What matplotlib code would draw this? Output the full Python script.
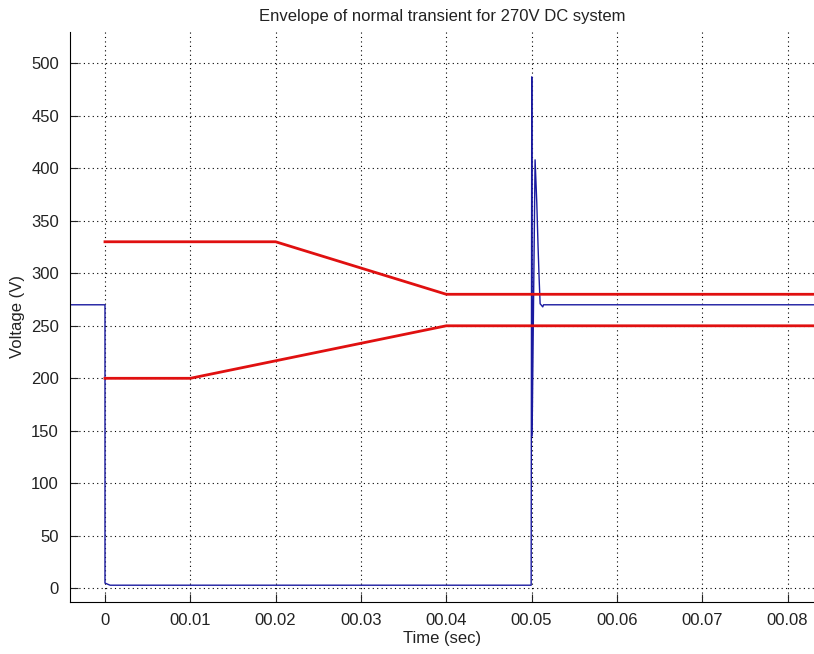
import matplotlib.pyplot as plt
import numpy as np

plt.rcParams['font.family'] = ['Liberation Sans', 'DejaVu Sans']

# measured voltage trace (blue)
t_meas = [-0.0045, 0.0, 0.0, 0.0006, 0.04995, 0.04995, 0.05002, 0.05006, 0.05041,
          0.05061, 0.05076, 0.05088, 0.0510, 0.05131, 0.0514, 0.085]
v_meas = [270, 270, 5, 3, 3, 3, 487, 145, 408, 367, 325, 296, 271, 268, 270, 270]

# envelope limits (red)
t_upper = [0.0, 0.02, 0.04, 0.085]
v_upper = [330, 330, 280, 280]
t_lower = [0.0, 0.01, 0.04, 0.085]
v_lower = [200, 200, 250, 250]

xticks = [0, 0.01, 0.02, 0.03, 0.04, 0.05, 0.06, 0.07, 0.08]
xlabels = ["0", "00.01", "00.02", "00.03", "00.04", "00.05", "00.06", "00.07", "00.08"]
yticks = np.arange(0, 501, 50)

fig = plt.figure(figsize=(8.14, 6.54), dpi=100)
ax = fig.add_axes([0.086, 0.0795, 0.914, 0.872])

ax.plot(t_meas, v_meas, color="#1a1aa0", linewidth=1.0)
ax.plot(t_upper, v_upper, color="#e01010", linewidth=2.0)
ax.plot(t_lower, v_lower, color="#e01010", linewidth=2.0)

ax.set_xlim(-0.0041, 0.0831)
ax.set_ylim(-13, 530)
ax.set_xticks(xticks)
ax.set_xticklabels(xlabels)
ax.set_yticks(yticks)
ax.tick_params(direction="in", length=6, labelsize=12, colors="#222222", pad=8)
ax.grid(True, color="black", linestyle=(0, (1, 3)), linewidth=0.8)
ax.spines["top"].set_visible(False)
ax.spines["right"].set_visible(False)

ax.set_xlabel("Time (sec)", fontsize=12, color="#222222", labelpad=2)
ax.set_ylabel("Voltage (V)", fontsize=12, color="#222222", labelpad=4)
ax.set_title("Envelope of normal transient for 270V DC system", fontsize=12,
             color="#222222", pad=8)

fig.savefig("out.png", dpi=100)
